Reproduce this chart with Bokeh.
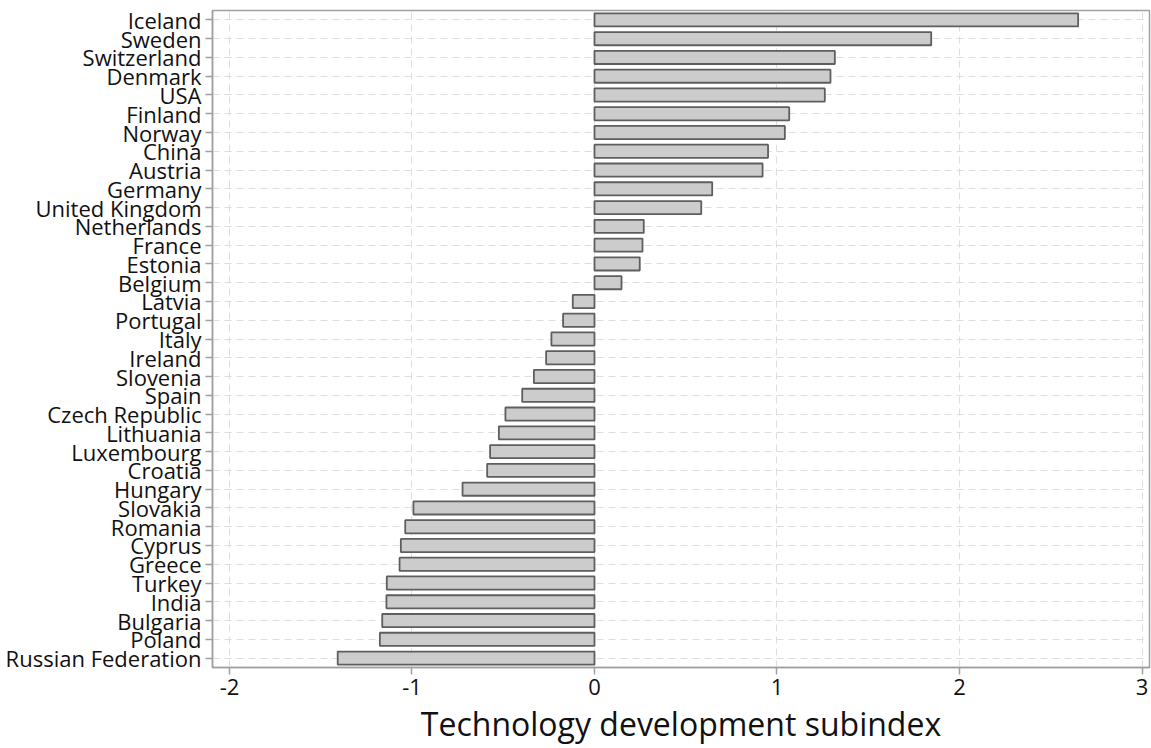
from bokeh.plotting import figure
from bokeh.models import Range1d, FactorRange, FixedTicker
from bokeh.embed import file_html
from bokeh.resources import INLINE

countries = ["Iceland", "Sweden", "Switzerland", "Denmark", "USA", "Finland", "Norway",
             "China", "Austria", "Germany", "United Kingdom", "Netherlands", "France",
             "Estonia", "Belgium", "Latvia", "Portugal", "Italy", "Ireland", "Slovenia",
             "Spain", "Czech Republic", "Lithuania", "Luxembourg", "Croatia", "Hungary",
             "Slovakia", "Romania", "Cyprus", "Greece", "Turkey", "India", "Bulgaria",
             "Poland", "Russian Federation"]
values = [2.65, 1.845, 1.317, 1.293, 1.262, 1.067, 1.043,
          0.951, 0.921, 0.645, 0.585, 0.270, 0.263,
          0.248, 0.148, -0.119, -0.172, -0.236, -0.265, -0.332,
          -0.396, -0.488, -0.524, -0.572, -0.588, -0.723,
          -0.992, -1.037, -1.061, -1.068, -1.138, -1.140, -1.163,
          -1.176, -1.407]
x_ticks = [-2, -1, 0, 1, 2, 3]
x_tick_labels = ["-2", "-1", "0", "1", "2", "3"]
x_title = "Technology development subindex"

FONT = "Open Sans"
TXT = "#111111"
AX = "#a0a0a0"

p = figure(
    y_range=FactorRange(factors=list(reversed(countries)), range_padding=0),
    x_range=Range1d(-2.093, 3.041),
    frame_width=937, frame_height=657,
    min_border_left=212, min_border_top=10, min_border_right=2, min_border_bottom=81,
    output_backend="svg", toolbar_location=None,
    background_fill_color="white", border_fill_color="white",
)

p.hbar(y=countries, right=values, left=0, height=0.7,
       fill_color="#cccccc", line_color="#5e5e5e", line_width=1.8)

p.outline_line_color = AX
p.outline_line_width = 1.5

for g in (p.xgrid, p.ygrid):
    g.grid_line_color = "#dddddd"
    g.grid_line_dash = "7 5"
    g.grid_line_width = 1

p.xaxis.ticker = FixedTicker(ticks=x_ticks)
p.xaxis.major_label_overrides = dict(zip(x_ticks, x_tick_labels))
p.xaxis.axis_label = x_title
for ax in (p.xaxis, p.yaxis):
    ax.axis_line_color = AX
    ax.axis_line_width = 1.5
    ax.major_tick_line_color = AX
    ax.major_tick_line_width = 1.5
    ax.major_tick_out = 7
    ax.major_tick_in = 0
    ax.minor_tick_line_color = None
    ax.major_label_text_font = FONT
    ax.major_label_text_color = TXT

p.xaxis.major_label_text_font_size = "22px"
p.yaxis.major_label_text_font_size = "22px"
p.xaxis.major_label_standoff = 4
p.yaxis.major_label_standoff = 4
p.xaxis.axis_label_text_font = FONT
p.xaxis.axis_label_text_font_size = "32px"
p.xaxis.axis_label_text_font_style = "normal"
p.xaxis.axis_label_text_color = TXT
p.xaxis.axis_label_standoff = 4

open("out.html", "w").write(file_html(p, INLINE))
